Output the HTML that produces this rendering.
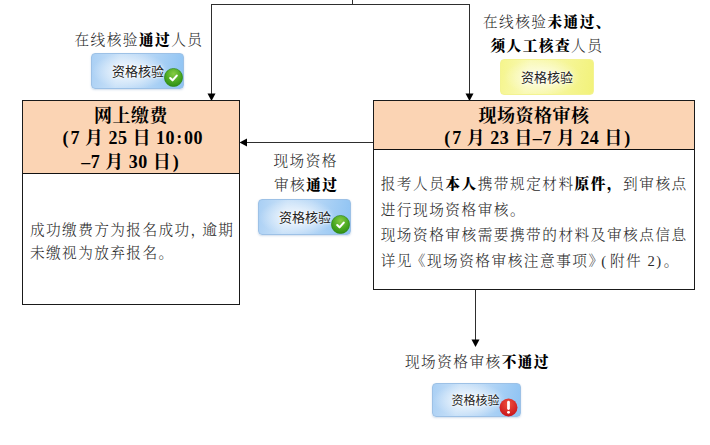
<!DOCTYPE html>
<html lang="zh-CN">
<head>
<meta charset="utf-8">
<title>流程图</title>
<style>
html,body{margin:0;padding:0;background:#fff;}
body{width:710px;height:445px;position:relative;overflow:hidden;
  font-family:"Liberation Serif","Noto Serif CJK SC",serif;color:#222;}
.abs{position:absolute;}
.ln{position:absolute;background:#2e2e2e;}
.box{position:absolute;border:1px solid #1a1a1a;box-sizing:border-box;background:#fff;}
.hd{position:absolute;left:0;top:0;right:0;background:#fbd4b4;border-bottom:1px solid #111;box-sizing:content-box;}
.t{position:absolute;white-space:nowrap;font-size:14.67px;line-height:20px;font-weight:300;color:#2a2a2a;letter-spacing:1.45px;}
.h i{font-style:normal;letter-spacing:1.8px;}
.h u{text-decoration:none;margin:0 1.5px;}
.t s{text-decoration:none;margin-right:-4.5px;}
.t em{font-style:normal;}
.t b{font-weight:900;color:#000;}
.h{position:absolute;white-space:nowrap;font-size:18px;line-height:24px;font-weight:700;color:#000;letter-spacing:0.5px;text-align:center;}
.btn{position:absolute;box-sizing:border-box;border-radius:4px;font-family:"Liberation Sans","Noto Sans CJK SC",sans-serif;
  font-size:13px;color:#222;font-weight:400;white-space:nowrap;}
.btn.blue{border:1px solid #9dc1e6;background:radial-gradient(ellipse 42% 55% at 42% 50%,rgba(255,255,255,.85) 0%,rgba(255,255,255,.45) 50%,rgba(255,255,255,0) 100%),linear-gradient(100deg,#a9cff4 0%,#c9e1f8 30%,#b9d8f6 55%,#8ec3f3 100%);box-shadow:0 1px 2px rgba(150,180,210,.45);}
.btn.yel{border:1px solid #f3f392;background:radial-gradient(ellipse 42% 55% at 45% 50%,rgba(255,255,255,.8) 0%,rgba(255,255,255,.4) 50%,rgba(255,255,255,0) 100%),linear-gradient(100deg,#f5f58c 0%,#f9f9b4 30%,#f7f7a2 55%,#f2f27a 100%);}
.btn span{position:absolute;text-shadow:0 0 2px #fff,0 0 3px #fff;}
.ic{position:absolute;width:19px;height:19px;}
</style>
</head>
<body>

<!-- connector lines -->
<div class="ln" style="left:352px;top:0;width:1px;height:4px;"></div>
<div class="ln" style="left:211px;top:4px;width:259px;height:1px;"></div>
<div class="ln" style="left:211px;top:4px;width:1px;height:90px;"></div>
<div class="ln" style="left:469px;top:4px;width:1px;height:90px;"></div>
<div class="ln" style="left:245px;top:142px;width:128px;height:1px;"></div>
<div class="ln" style="left:475px;top:289px;width:1px;height:52px;"></div>
<svg class="abs" style="left:0;top:0" width="710" height="445">
  <polygon points="207.5,93.5 215.5,93.5 211.5,101" fill="#000"/>
  <polygon points="465.5,93.5 473.5,93.5 469.5,101" fill="#000"/>
  <polygon points="247,138.5 247,146.5 239.5,142.5" fill="#000"/>
  <polygon points="471.5,339.5 479.5,339.5 475.5,347" fill="#000"/>
</svg>

<!-- left box -->
<div class="box" style="left:22px;top:100px;width:218px;height:205px;">
  <div class="hd" style="height:72px;"></div>
</div>
<div class="h" style="left:23px;width:216px;top:104px;">网上缴费</div>
<div class="h" style="left:24px;width:216px;top:126px;"><u>(</u>7 月 25 日 1<i>0:</i>00</div>
<div class="h" style="left:23px;width:216px;top:150px;">–7 月 30 日<u>)</u></div>
<div class="t" style="left:30px;top:219.5px;letter-spacing:1.4px;">成功缴费方为报名成功<s>，</s>逾期</div>
<div class="t" style="left:30px;top:243px;letter-spacing:1.4px;">未缴视为放弃报名。</div>

<!-- right box -->
<div class="box" style="left:373px;top:100px;width:322px;height:190px;">
  <div class="hd" style="height:48px;"></div>
</div>
<div class="h" style="left:374px;width:320px;top:104px;">现场资格审核</div>
<div class="h" style="left:377.5px;width:320px;top:126px;"><u>(</u>7 月 23 日–7 月 24 日<u>)</u></div>
<div class="t" style="left:380.7px;top:174.3px;letter-spacing:1.5px;">报考人员<b>本人</b>携带规定材料<b>原件，</b>到审核点</div>
<div class="t" style="left:380.7px;top:199.7px;letter-spacing:1.5px;">进行现场资格审核。</div>
<div class="t" style="left:380.7px;top:225.3px;letter-spacing:1.5px;">现场资格审核需要携带的材料及审核点信息</div>
<div class="t" style="left:380.7px;top:251.2px;letter-spacing:1.5px;">详见<em style="margin-left:-2.3px">《</em>现场资格审核注意事项<em style="margin-right:-3.4px">》</em><em style="margin-right:2.3px">(</em>附件 2<em style="margin-right:1px">)</em>。</div>

<!-- labels -->
<div class="t" style="left:74.5px;top:29.5px;">在线核验<b>通过</b>人员</div>
<div class="t" style="left:483px;top:12px;">在线核验<b>未通过、</b></div>
<div class="t" style="left:490.5px;top:35.7px;"><b>须人工核查</b>人员</div>
<div class="t" style="left:273.5px;top:151.3px;">现场资格</div>
<div class="t" style="left:274px;top:175.3px;">审核<b>通过</b></div>
<div class="t" style="left:405px;top:352.3px;">现场资格审核<b>不通过</b></div>

<!-- buttons -->
<div class="btn blue" style="left:91px;top:53px;width:93px;height:36px;"><span style="left:20px;top:6.5px;">资格核验</span></div>
<svg class="ic" style="left:163.5px;top:68px;" viewBox="0 0 18 18"><defs><radialGradient id="g1" cx="50%" cy="30%" r="70%"><stop offset="0" stop-color="#86cc44"/><stop offset=".6" stop-color="#4aa822"/><stop offset="1" stop-color="#2f8f14"/></radialGradient></defs><circle cx="9" cy="9" r="8.6" fill="url(#g1)" stroke="#2a8410" stroke-width=".6"/><path d="M5.9 9.5 L8.1 11.7 L12.1 7.2" fill="none" stroke="#fff" stroke-width="2" stroke-linecap="round" stroke-linejoin="round"/></svg>

<div class="btn yel" style="left:500px;top:59px;width:94px;height:36px;"><span style="left:20px;top:6.5px;">资格核验</span></div>

<div class="btn blue" style="left:258px;top:199px;width:93px;height:36px;"><span style="left:20px;top:6.5px;">资格核验</span></div>
<svg class="ic" style="left:330.5px;top:214.6px;" viewBox="0 0 18 18"><circle cx="9" cy="9" r="8.6" fill="url(#g1)" stroke="#2a8410" stroke-width=".6"/><path d="M5.9 9.5 L8.1 11.7 L12.1 7.2" fill="none" stroke="#fff" stroke-width="2" stroke-linecap="round" stroke-linejoin="round"/></svg>

<div class="btn blue" style="left:431.5px;top:383px;width:89px;height:33.5px;"><span style="left:19px;top:6.5px;font-size:12px;">资格核验</span></div>
<svg class="ic" style="left:499.3px;top:397.5px;" viewBox="0 0 18 18"><defs><radialGradient id="g2" cx="50%" cy="30%" r="70%"><stop offset="0" stop-color="#f0503c"/><stop offset="1" stop-color="#c8141c"/></radialGradient></defs><circle cx="9" cy="9" r="8.5" fill="url(#g2)"/><path d="M9 4 L9 10" stroke="#fff" stroke-width="2.6" stroke-linecap="round"/><circle cx="9" cy="13.6" r="1.4" fill="#fff"/></svg>

</body>
</html>
